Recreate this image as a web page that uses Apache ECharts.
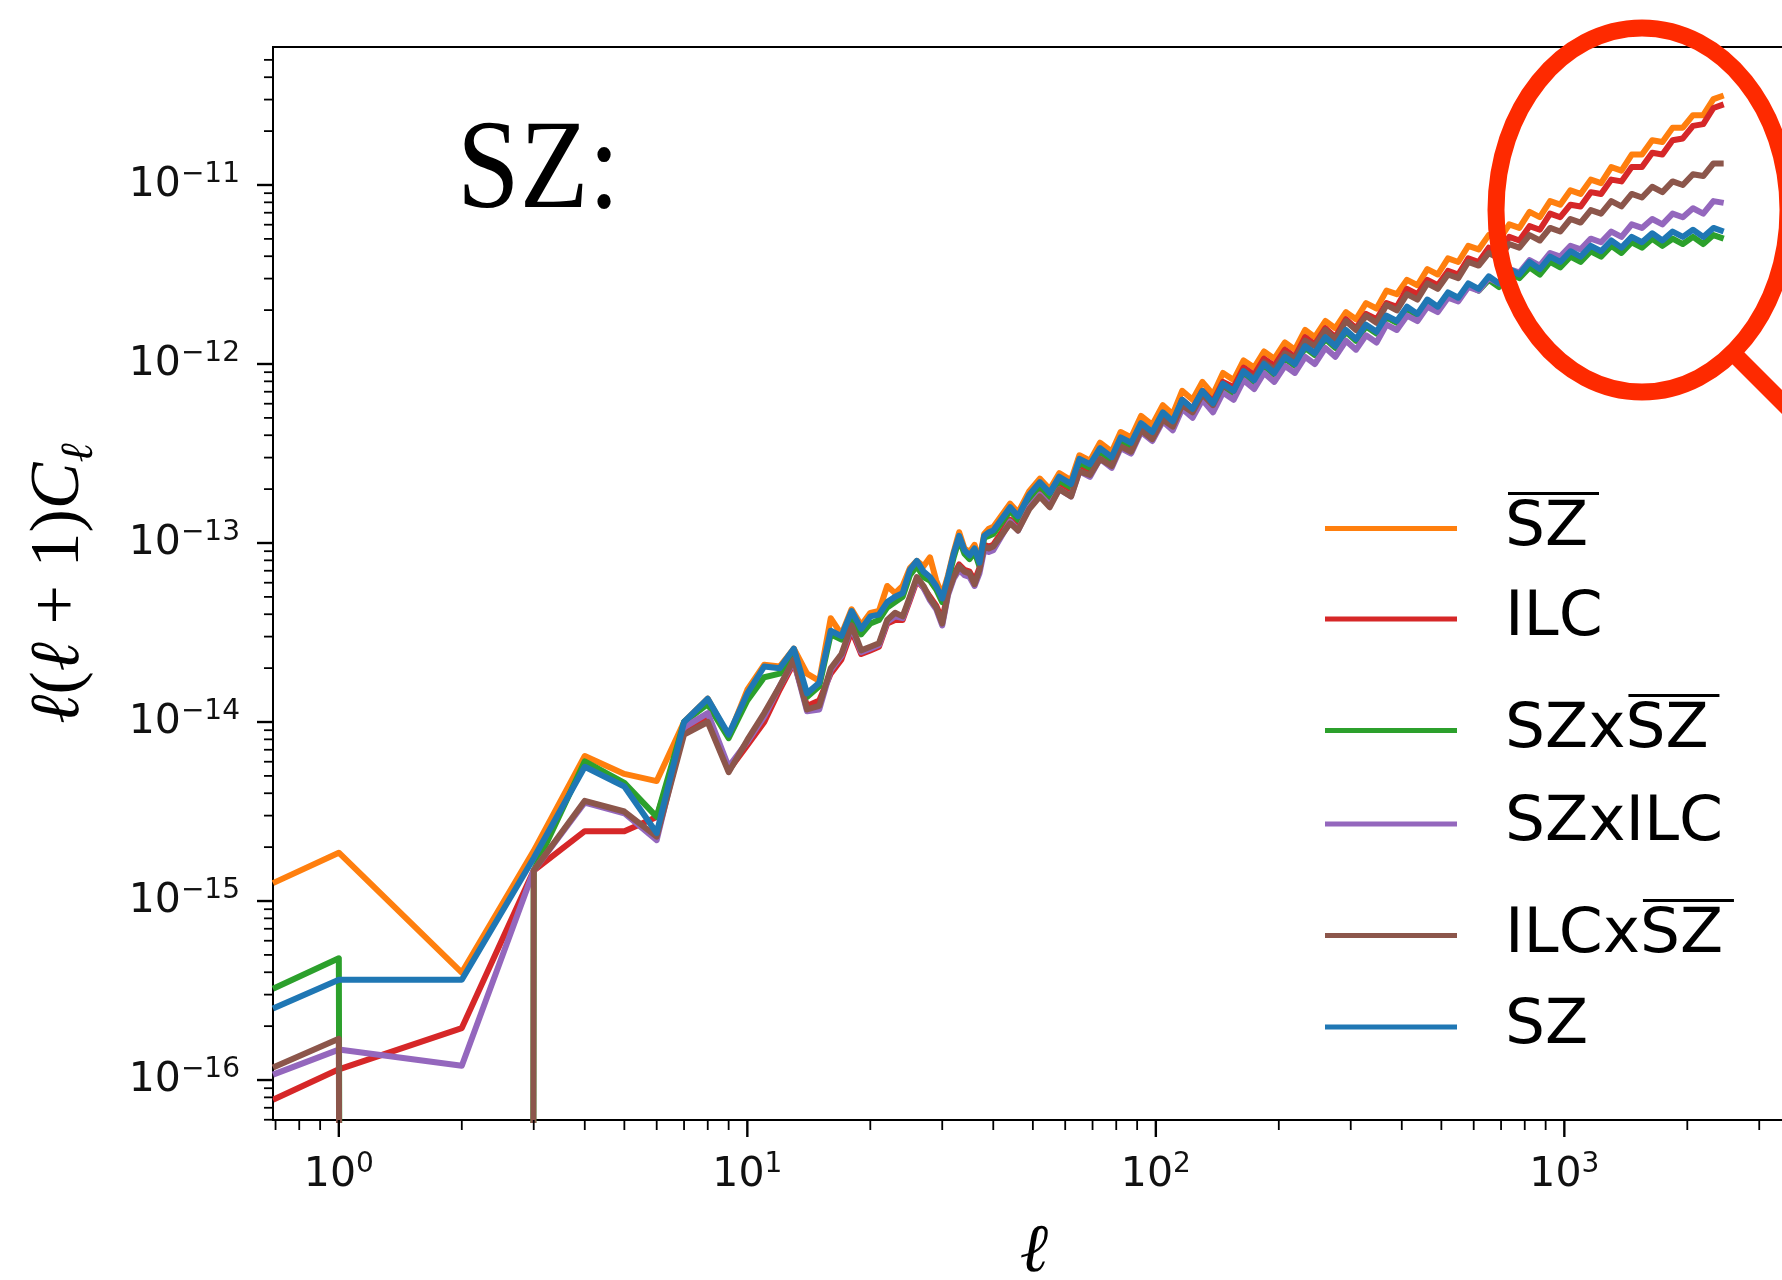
<!DOCTYPE html>
<html>
<head>
<meta charset="utf-8">
<title>SZ angular power spectra</title>
<script src="https://cdn.jsdelivr.net/npm/echarts@6/dist/echarts.min.js"></script>
<style>
  html, body { margin: 0; padding: 0; background: #ffffff; }
  #chart { width: 1782px; height: 1280px; }
</style>
</head>
<body>
<div id="chart"></div>
<script>
// Multipoles ℓ of the plotted spectra (first entry sits on the left edge of the axis).
const ell = [0.69,
  1, 2, 3, 4, 5, 6, 7, 8, 9, 10, 11, 12, 13, 14, 15, 16, 17, 18, 19, 20,
  21, 22, 23, 24, 25, 26, 27, 28, 29, 30, 31, 32, 33, 34, 35, 36, 37, 38, 39, 40,
  44, 46, 49, 52, 55, 58, 62, 65, 69, 73, 78, 82, 87, 92, 98, 104, 110, 116, 123, 130,
  138, 146, 155, 164, 174, 184, 195, 207, 219, 232, 245, 260, 275, 292, 309, 327, 347, 367, 389, 412,
  437, 462, 490, 519, 550, 582, 617, 653, 692, 733, 776, 822, 871, 923, 977, 1035, 1096, 1161, 1230, 1303,
  1380, 1462, 1549, 1641, 1738, 1841, 1950, 2065, 2188, 2317, 2455];

// log10 of ℓ(ℓ+1)Cℓ for each spectrum; null marks a non-positive estimate.
const szBar = [-14.90, -14.73, -15.40, -14.72, -14.19, -14.29, -14.33, -14.00, -13.87, -14.08,
  -13.82, -13.68, -13.69, -13.59, -13.73, -13.77, -13.42, -13.51, -13.37, -13.46, -13.39,
  -13.38, -13.24, -13.28, -13.24, -13.14, -13.10, -13.13, -13.08, -13.21, -13.29, -13.18,
  -13.05, -12.94, -13.03, -13.05, -13.01, -13.10, -12.95, -12.92, -12.91,
  -12.78, -12.83, -12.71, -12.64, -12.70, -12.61, -12.65, -12.51, -12.54, -12.44,
  -12.49, -12.38, -12.41, -12.29, -12.34, -12.23, -12.28, -12.15, -12.20, -12.10,
  -12.17, -12.05, -12.09, -11.98, -12.02, -11.93, -11.97, -11.88, -11.92, -11.81,
  -11.85, -11.76, -11.80, -11.71, -11.75, -11.66, -11.69, -11.59, -11.61, -11.53,
  -11.56, -11.47, -11.50, -11.41, -11.43, -11.34, -11.36, -11.28, -11.31, -11.22,
  -11.24, -11.15, -11.18, -11.09, -11.11, -11.03, -11.05, -10.97, -10.99, -10.90,
  -10.92, -10.83, -10.83, -10.75, -10.76, -10.68, -10.68, -10.61, -10.61, -10.52,
  -10.50];

const ilc = [-16.11, -15.94, -15.71, -14.83, -14.61, -14.61, -14.53, -14.05, -13.98, -14.27,
  -14.13, -14.00, -13.82, -13.67, -13.91, -13.88, -13.73, -13.65, -13.49, -13.62, -13.60,
  -13.58, -13.45, -13.43, -13.43, -13.32, -13.21, -13.25, -13.30, -13.35, -13.43, -13.27,
  -13.18, -13.12, -13.15, -13.16, -13.21, -13.14, -13.01, -13.02, -13.01,
  -12.87, -12.91, -12.78, -12.71, -12.77, -12.67, -12.71, -12.57, -12.60, -12.50,
  -12.55, -12.44, -12.46, -12.35, -12.39, -12.28, -12.33, -12.20, -12.25, -12.15,
  -12.21, -12.10, -12.13, -12.02, -12.06, -11.97, -12.01, -11.92, -11.96, -11.85,
  -11.89, -11.80, -11.85, -11.75, -11.80, -11.72, -11.75, -11.66, -11.68, -11.58,
  -11.61, -11.53, -11.56, -11.48, -11.50, -11.41, -11.43, -11.35, -11.38, -11.29,
  -11.31, -11.23, -11.25, -11.16, -11.18, -11.11, -11.12, -11.04, -11.05, -10.97,
  -10.98, -10.90, -10.90, -10.82, -10.83, -10.75, -10.74, -10.67, -10.66, -10.57,
  -10.55];

const szXszBar = [-15.49, -15.32, null, -14.83, -14.22, -14.34, -14.53, -14.00, -13.90, -14.09,
  -13.88, -13.75, -13.73, -13.62, -13.86, -13.80, -13.51, -13.54, -13.41, -13.51, -13.45,
  -13.43, -13.36, -13.33, -13.30, -13.18, -13.13, -13.19, -13.21, -13.26, -13.33, -13.21,
  -13.08, -12.98, -13.06, -13.09, -13.05, -13.13, -12.97, -12.96, -12.95,
  -12.82, -12.87, -12.75, -12.68, -12.74, -12.65, -12.69, -12.55, -12.58, -12.49,
  -12.54, -12.43, -12.46, -12.35, -12.40, -12.29, -12.34, -12.22, -12.27, -12.17,
  -12.24, -12.13, -12.17, -12.06, -12.11, -12.01, -12.06, -11.97, -12.01, -11.91,
  -11.95, -11.86, -11.91, -11.82, -11.87, -11.79, -11.83, -11.74, -11.77, -11.69,
  -11.73, -11.65, -11.69, -11.61, -11.64, -11.56, -11.59, -11.53, -11.57, -11.49,
  -11.52, -11.46, -11.50, -11.43, -11.46, -11.40, -11.43, -11.37, -11.40, -11.34,
  -11.38, -11.32, -11.35, -11.30, -11.34, -11.30, -11.33, -11.29, -11.33, -11.28,
  -11.30];

const szXilc = [-15.97, -15.83, -15.92, -14.83, -14.45, -14.51, -14.66, -14.03, -13.95, -14.25,
  -14.11, -13.97, -13.80, -13.66, -13.94, -13.93, -13.71, -13.63, -13.47, -13.61, -13.59,
  -13.57, -13.44, -13.41, -13.42, -13.31, -13.20, -13.25, -13.32, -13.37, -13.46, -13.29,
  -13.20, -13.15, -13.18, -13.19, -13.24, -13.17, -13.04, -13.05, -13.04,
  -12.88, -12.93, -12.80, -12.73, -12.79, -12.70, -12.74, -12.60, -12.63, -12.53,
  -12.58, -12.47, -12.50, -12.38, -12.43, -12.32, -12.37, -12.25, -12.30, -12.20,
  -12.27, -12.16, -12.20, -12.09, -12.14, -12.05, -12.10, -12.01, -12.05, -11.96,
  -12.00, -11.91, -11.96, -11.87, -11.92, -11.84, -11.88, -11.78, -11.81, -11.73,
  -11.76, -11.68, -11.71, -11.63, -11.65, -11.57, -11.59, -11.52, -11.55, -11.47,
  -11.49, -11.42, -11.45, -11.38, -11.40, -11.34, -11.36, -11.30, -11.32, -11.26,
  -11.29, -11.22, -11.24, -11.19, -11.22, -11.16, -11.18, -11.13, -11.16, -11.09,
  -11.10];

const ilcXszBar = [-15.93, -15.77, null, -14.83, -14.44, -14.50, -14.64, -14.07, -14.00, -14.28,
  -14.10, -13.95, -13.80, -13.65, -13.93, -13.91, -13.70, -13.62, -13.46, -13.60, -13.58,
  -13.56, -13.43, -13.39, -13.41, -13.30, -13.19, -13.24, -13.31, -13.36, -13.45, -13.28,
  -13.19, -13.13, -13.16, -13.17, -13.23, -13.15, -13.02, -13.03, -13.02,
  -12.89, -12.93, -12.81, -12.74, -12.80, -12.70, -12.74, -12.60, -12.62, -12.53,
  -12.57, -12.46, -12.49, -12.37, -12.42, -12.31, -12.35, -12.23, -12.27, -12.17,
  -12.23, -12.12, -12.15, -12.04, -12.08, -11.99, -12.03, -11.94, -11.97, -11.87,
  -11.90, -11.81, -11.86, -11.76, -11.81, -11.73, -11.77, -11.67, -11.70, -11.61,
  -11.64, -11.55, -11.58, -11.50, -11.52, -11.43, -11.45, -11.38, -11.41, -11.33,
  -11.35, -11.28, -11.31, -11.24, -11.26, -11.19, -11.21, -11.14, -11.16, -11.09,
  -11.12, -11.05, -11.07, -11.01, -11.04, -10.98, -11.00, -10.94, -10.95, -10.88,
  -10.88];

const sz = [-15.60, -15.44, -15.44, -14.76, -14.25, -14.36, -14.62, -14.00, -13.87, -14.07,
  -13.84, -13.69, -13.70, -13.59, -13.84, -13.78, -13.49, -13.52, -13.38, -13.48, -13.41,
  -13.40, -13.33, -13.30, -13.28, -13.15, -13.10, -13.16, -13.19, -13.24, -13.31, -13.19,
  -13.06, -12.96, -13.04, -13.07, -13.03, -13.11, -12.96, -12.94, -12.93,
  -12.80, -12.85, -12.73, -12.66, -12.72, -12.63, -12.67, -12.53, -12.56, -12.47,
  -12.52, -12.41, -12.44, -12.33, -12.38, -12.27, -12.32, -12.20, -12.25, -12.15,
  -12.22, -12.11, -12.15, -12.04, -12.09, -12.00, -12.05, -11.96, -12.00, -11.90,
  -11.94, -11.85, -11.90, -11.81, -11.86, -11.78, -11.82, -11.73, -11.76, -11.68,
  -11.72, -11.64, -11.68, -11.60, -11.63, -11.55, -11.58, -11.51, -11.55, -11.47,
  -11.50, -11.43, -11.47, -11.40, -11.43, -11.37, -11.40, -11.34, -11.37, -11.31,
  -11.35, -11.29, -11.32, -11.27, -11.31, -11.26, -11.29, -11.25, -11.29, -11.24,
  -11.26];

// Axis ranges
const X_MIN = 0.69, X_MAX = 3670;
const Y_MIN = 5.98e-17, Y_MAX = 5.9e-11;
// Non-positive estimates are pushed far below the axis, so the line drops out of the frame.
const FLOOR = 1e-300;

// Legend entries: plain prefix followed by the part carrying an overbar.
const curves = [
  { name: 'S\u0305Z\u0305',     pre: '',       bar: 'SZ', color: '#ff7f0e', logs: szBar },
  { name: 'ILC',                pre: 'ILC',    bar: '',   color: '#d62728', logs: ilc },
  { name: 'SZxS\u0305Z\u0305',  pre: 'SZx',    bar: 'SZ', color: '#2ca02c', logs: szXszBar },
  { name: 'SZxILC',             pre: 'SZxILC', bar: '',   color: '#9467bd', logs: szXilc },
  { name: 'ILCxS\u0305Z\u0305', pre: 'ILCx',   bar: 'SZ', color: '#8c564b', logs: ilcXszBar },
  { name: 'SZ',                 pre: 'SZ',     bar: '',   color: '#1f77b4', logs: sz }
];
const legendLineY = [527, 619, 729, 824, 934, 1027];

function toPairs(logs) {
  return ell.map((l, i) => [l, logs[i] === null ? FLOOR : Math.pow(10, logs[i])]);
}

// Decade ticks with matplotlib-style minor ticks at 2..9 × 10^n
const tickItems = [];
for (let e = -1; e <= 3; e++) {
  for (let m = 1; m <= 9; m++) {
    const v = m * Math.pow(10, e);
    if (v >= X_MIN && v <= X_MAX) tickItems.push([v, Y_MIN, m === 1 ? 0 : 1]);
  }
}
for (let e = -17; e <= -11; e++) {
  for (let m = 1; m <= 9; m++) {
    const v = m * Math.pow(10, e);
    if (v >= Y_MIN && v <= Y_MAX) tickItems.push([X_MIN, v, m === 1 ? 2 : 3]);
  }
}

function powerLabel(value) {
  const e = Math.log10(value);
  const r = Math.round(e);
  if (Math.abs(e - r) > 1e-6) return '';
  return '{b|10}{s|' + String(r).replace('-', '\u2212') + '}';
}
const labelRich = {
  b: { fontFamily: 'DejaVu Sans', fontSize: 41, lineHeight: 48, color: '#111' },
  s: { fontFamily: 'DejaVu Sans', fontSize: 28, lineHeight: 28, verticalAlign: 'top', color: '#111' }
};

const series = curves.map(c => ({
  name: c.name,
  type: 'line',
  data: toPairs(c.logs),
  showSymbol: false,
  symbol: 'none',
  clip: true,
  color: c.color,
  lineStyle: { width: 6, color: c.color, join: 'round', cap: 'butt' },
  emphasis: { disabled: true }
}));

series.push({
  type: 'custom',
  name: 'ticks',
  silent: true,
  clip: false,
  z: 5,
  encode: { x: 0, y: 1 },
  data: tickItems,
  renderItem: function (params, api) {
    const p = api.coord([api.value(0), api.value(1)]);
    const kind = api.value(2);
    const len = [17, 10, 16, 9][kind];
    const w = kind % 2 === 0 ? 2.4 : 1.8;
    const shape = kind < 2
      ? { x1: p[0], y1: p[1], x2: p[0], y2: p[1] + len }
      : { x1: p[0], y1: p[1], x2: p[0] - len, y2: p[1] };
    return { type: 'line', shape: shape, style: { stroke: '#000', lineWidth: w } };
  }
});

// Legend text: an overbar is drawn as a thin filled token on a line above the letters.
const LEGEND_FONT = '63px "DejaVu Sans"';
const measureCtx = document.createElement('canvas').getContext('2d');
measureCtx.font = LEGEND_FONT;
function textWidth(s) { return s ? measureCtx.measureText(s).width : 0; }

const legends = curves.map((c, i) => {
  const hasBar = c.bar !== '';
  let textStyle;
  if (hasBar) {
    textStyle = {
      fontFamily: 'DejaVu Sans',
      fontSize: 63,
      color: '#000',
      padding: [0, 0, 3, 43],
      rich: {
        t: { fontFamily: 'DejaVu Sans', fontSize: 63, lineHeight: 67, color: '#000' },
        g: { fontSize: 2, lineHeight: 3, height: 3, width: textWidth(c.pre) + 3 },
        o: { fontSize: 2, lineHeight: 3, height: 3, width: 91, backgroundColor: '#000' }
      }
    };
  } else {
    textStyle = {
      fontFamily: 'DejaVu Sans',
      fontSize: 63,
      lineHeight: 70,
      color: '#000',
      padding: [0, 0, 0, 43]
    };
  }
  const legend = {
    data: [c.name],
    left: 1325,
    top: legendLineY[i] - 35,
    orient: 'vertical',
    icon: 'rect',
    itemWidth: 132,
    itemHeight: 5,
    padding: 0,
    selectedMode: false,
    textStyle: textStyle
  };
  legend.formatter = hasBar
    ? function () { return '{g| }{o| }\n{t|' + c.pre + c.bar + '}'; }
    : function () { return c.pre; };
  return legend;
});

const serif = '"Liberation Serif", "DejaVu Serif", serif';

const option = {
  animation: false,
  backgroundColor: '#ffffff',
  grid: {
    left: 273, top: 47, right: -13, bottom: 160,
    containLabel: false,
    outerBoundsMode: 'none',
    show: true,
    borderColor: '#000',
    borderWidth: 2,
    backgroundColor: 'transparent'
  },
  xAxis: {
    type: 'log',
    logBase: 10,
    min: X_MIN,
    max: X_MAX,
    axisLine: { show: false },
    axisTick: { show: false },
    minorTick: { show: false },
    splitLine: { show: false },
    axisLabel: {
      margin: 31,
      showMinLabel: false,
      showMaxLabel: false,
      formatter: powerLabel,
      rich: labelRich
    },
    name: 'ℓ',
    nameLocation: 'middle',
    nameGap: 99,
    nameMoveOverlap: false,
    nameTextStyle: { fontFamily: serif, fontStyle: 'italic', fontSize: 68, color: '#000' }
  },
  yAxis: {
    type: 'log',
    logBase: 10,
    min: Y_MIN,
    max: Y_MAX,
    axisLine: { show: false },
    axisTick: { show: false },
    minorTick: { show: false },
    splitLine: { show: false },
    axisLabel: {
      margin: 33,
      showMinLabel: false,
      showMaxLabel: false,
      formatter: powerLabel,
      rich: labelRich
    },
    name: '{i|ℓ}{r|(}{i|ℓ}{r| + 1)}{c|C}{s|ℓ}',
    nameLocation: 'middle',
    nameRotate: 90,
    nameGap: 170,
    nameMoveOverlap: false,
    nameTextStyle: {
      rich: {
        i: { fontFamily: serif, fontStyle: 'italic', fontSize: 70, lineHeight: 86, color: '#000' },
        r: { fontFamily: serif, fontSize: 70, lineHeight: 86, color: '#000' },
        c: { fontFamily: serif, fontStyle: 'italic', fontSize: 70, lineHeight: 86, color: '#000' },
        s: { fontFamily: serif, fontStyle: 'italic', fontSize: 46, lineHeight: 36, verticalAlign: 'bottom', color: '#000' }
      }
    }
  },
  legend: legends,
  series: series,
  graphic: [
    {
      type: 'text',
      x: 457, y: 173,
      scaleX: 0.88,
      z: 100,
      style: { text: 'SZ:', font: '128px "Liberation Serif", serif', fill: '#000', align: 'left', verticalAlign: 'middle' }
    },
    {
      type: 'ellipse',
      z: 100,
      shape: { cx: 1642, cy: 210, rx: 146, ry: 182 },
      style: { fill: 'none', stroke: '#fe2a00', lineWidth: 17 }
    },
    {
      type: 'line',
      z: 100,
      shape: { x1: 1728, y1: 348, x2: 1850, y2: 470 },
      style: { stroke: '#fe2a00', lineWidth: 17 }
    }
  ]
};

const chart = echarts.init(document.getElementById('chart'), null, { renderer: 'canvas', width: 1782, height: 1280 });
chart.setOption(option);
</script>
</body>
</html>
